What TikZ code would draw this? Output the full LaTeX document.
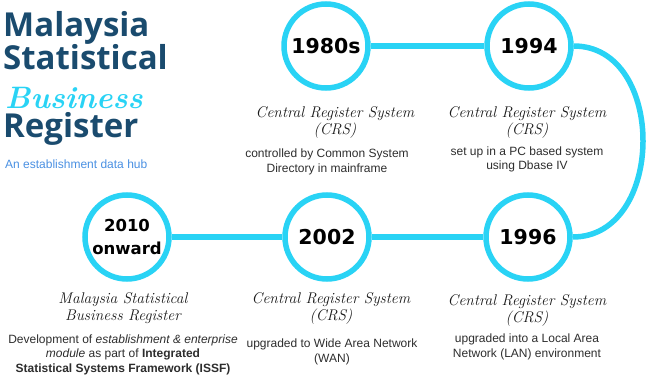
\documentclass[tikz,border=0pt]{standalone}
\usepackage{fontspec}
\usepackage{xcolor}
\usepackage{tikz}
\usetikzlibrary{calc}

\newfontfamily\bodyFont{Liberation Sans}
\newfontfamily\titleFont{Open Sans}
\newfontfamily\yearFont{DejaVu Sans}

\definecolor{ringCyan}{RGB}{41,211,245}
\definecolor{titleNavy}{RGB}{26,75,110}
\definecolor{hubBlue}{RGB}{74,144,226}
\definecolor{bodyGray}{RGB}{45,45,45}

\begin{document}
\begin{tikzpicture}[x=1pt, y=-1pt,
		yearRing/.style={circle, draw=ringCyan, line width=5.5pt, minimum size=84pt, inner sep=0pt, fill=white, align=center, font=\yearFont\bfseries\fontsize{20.5}{22}\selectfont},
		timeLine/.style={draw=ringCyan, line width=5.5pt},
		titleText/.style={anchor=base west, inner sep=0pt, text=titleNavy, font=\titleFont\bfseries\fontsize{33}{33}\selectfont},
		scriptText/.style={align=center, inner sep=0pt, anchor=base, text=black!90, font=\rmfamily\itshape\fontsize{15.5}{17}\selectfont},
		bodyText/.style={align=center, inner sep=0pt, anchor=base, text=bodyGray, font=\bodyFont\fontsize{12}{14.5}\selectfont}]
			\useasboundingbox (0,0) rectangle (647,382);

			\def\rowTop{46};
			\def\rowBottom{237};

			\newcommand{\drawCaption}[4]
			{
				\node [scriptText] (#1) at (#2,#3) {#4}
			}

			\newcommand{\drawDetail}[4]
			{
				\node [bodyText] (#1) at (#2,#3) {#4}
			}

			% title block
			\begin{scope}
				\node [titleText] (titleMalaysia) at (3,37) {Malaysia};
				\node [titleText] (titleStatistical) at (3,70) {Statistical};
				\node [titleText] (titleRegister) at (3,138) {Register};
				\node [anchor=base west, inner sep=0pt, text=ringCyan, font=\rmfamily\bfseries\itshape\fontsize{31}{31}\selectfont] (titleBusiness) at (5,109) {Business};
				\node [anchor=base west, inner sep=0pt, text=hubBlue, font=\bodyFont\fontsize{12}{14}\selectfont] (titleHub) at (5,168) {An establishment data hub};
			\end{scope}

			% years
			\begin{scope}
				\node [yearRing] (y1980) at (326,\rowTop) {1980s};
				\node [yearRing] (y1994) at (529,\rowTop) {1994};
				\node [yearRing, font=\yearFont\bfseries\fontsize{16.5}{23}\selectfont] (y2010) at (127,\rowBottom) {2010\\onward};
				\node [yearRing] (y2002) at (327,\rowBottom) {2002};
				\node [yearRing] (y1996) at (528,\rowBottom) {1996};
			\end{scope}

			% timeline
			\begin{scope}[timeLine]
				\draw (y1980) -- (y1994);
				\draw (y1994.east) .. controls +(93,0) and +(93,0) .. (y1996.east);
				\draw (y1996) -- (y2002);
				\draw (y2002) -- (y2010);
			\end{scope}

			% captions (base = last line)
			\drawCaption{crs1980}{335}{135}{Central Register System\\(CRS)};
			\drawCaption{crs1994}{527}{135}{Central Register System\\(CRS)};
			\drawCaption{crs2002}{331}{320}{Central Register System\\(CRS)};
			\drawCaption{crs1996}{527}{322}{Central Register System\\(CRS)};
			\drawCaption{msbr2010}{123}{320}{Malaysia Statistical\\Business Register};

			\drawDetail{info1980}{327}{172}{controlled by Common System\\Directory in mainframe};
			\drawDetail{info1994}{527}{170}{set up in a PC based system\\using Dbase IV};
			\drawDetail{info2002}{332}{362}{upgraded to Wide Area Network\\(WAN)};
			\drawDetail{info1996}{527}{357}{upgraded into a Local Area\\Network (LAN) environment};
			\drawDetail{info2010}{123}{372}{Development of \textit{establishment \& enterprise}\\\textit{module} as part of \textbf{Integrated}\\\textbf{Statistical Systems Framework (ISSF)}};
		\end{tikzpicture}
\end{document}
